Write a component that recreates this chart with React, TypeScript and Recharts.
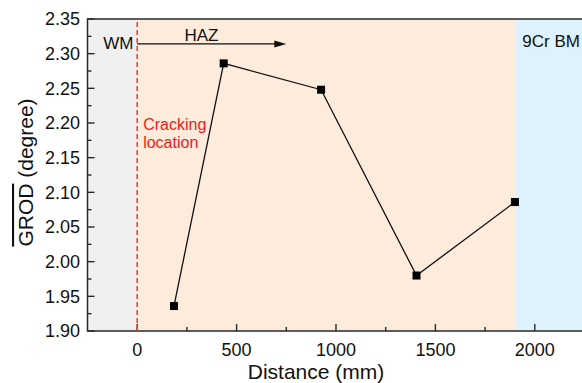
import React from 'react';
import {
  ComposedChart,
  Line,
  XAxis,
  YAxis,
  ReferenceArea,
  ReferenceLine,
  ReferenceDot,
} from 'recharts';

// measured GROD values along the weld
const distance = [185, 435, 925, 1405, 1900];
const grod = [1.936, 2.286, 2.248, 1.98, 2.086];

const xDomain = [-250, 2250];
const yDomain = [1.9, 2.35];
const xTicks = [0, 250, 500, 750, 1000, 1250, 1500, 1750, 2000];
const yTicks = [
  1.9, 1.925, 1.95, 1.975, 2.0, 2.025, 2.05, 2.075, 2.1, 2.125, 2.15, 2.175,
  2.2, 2.225, 2.25, 2.275, 2.3, 2.325, 2.35,
];

// zone boundaries: WM | HAZ | 9Cr BM
const zoneEdges = [-250, 0, 1900, 2250];
const zoneColors = ['#f0f0f0', '#fdebdc', '#def2fd'];

const cracking = 0;
const hazArrow = { from: 0, to: 750, y: 2.314 };

const notes = [
  { text: 'WM', x: -95, y: 2.307, anchor: 'middle', color: '#111' },
  { text: 'HAZ', x: 323, y: 2.318, anchor: 'middle', color: '#111' },
  { text: '9Cr BM', x: 1937, y: 2.31, anchor: 'start', color: '#111' },
  { text: 'Cracking', x: 30, y: 2.19, anchor: 'start', color: '#ee1c1c' },
  { text: 'location', x: 30, y: 2.164, anchor: 'start', color: '#ee1c1c' },
];

const data = distance.map((d, i) => ({ x: d, y: grod[i] }));

const FONT = "Arial, 'Liberation Sans', sans-serif";
const AXIS = '#2a2a2a';

const isMajorX = (v: number) => v % 500 === 0;
const isMajorY = (v: number) => Math.abs(v * 20 - Math.round(v * 20)) < 1e-6;

const XTick = (p: any) => {
  const { x, y, payload } = p;
  const v = payload.value;
  if (!isMajorX(v)) return <g />;
  return (
    <text x={x} y={y} dy="0.71em" textAnchor="middle" fontSize={18} fontFamily={FONT} fill="#111">
      {v}
    </text>
  );
};

const YTick = (p: any) => {
  const { x, y, payload } = p;
  const v = payload.value;
  if (!isMajorY(v)) return <g />;
  return (
    <text x={x} y={y} dy="0.355em" textAnchor="end" fontSize={18} fontFamily={FONT} fill="#111">
      {v.toFixed(2)}
    </text>
  );
};

// inward tick marks, drawn on top of the coloured zones
const XTickMark = (p: any) => {
  const bottom = Math.max(p.y1, p.y2);
  const len = isMajorX(p.value) ? 7 : 4;
  return <line x1={p.x1} x2={p.x1} y1={bottom} y2={bottom - len} stroke={AXIS} strokeWidth={1.4} />;
};
const YTickMark = (p: any) => {
  const left = Math.min(p.x1, p.x2);
  const len = isMajorY(p.value) ? 7 : 4;
  return <line x1={left} x2={left + len} y1={p.y1} y2={p.y1} stroke={AXIS} strokeWidth={1.4} />;
};

const Square = (p: any) => (
  <rect key={`pt-${p.index}`} x={p.cx - 4} y={p.cy - 4} width={8} height={8} fill="#000" />
);

const Arrow = (p: any) => {
  const { x1, y1, x2, y2 } = p;
  return (
    <g>
      <line x1={x1} y1={y1} x2={x2 - 10} y2={y2} stroke="#111" strokeWidth={1.3} />
      <polygon points={`${x2},${y2} ${x2 - 12},${y2 - 3.5} ${x2 - 12},${y2 + 3.5}`} fill="#111" />
    </g>
  );
};

const noteLabel = (n: any) => (props: any) => {
  const vb = props.viewBox || {};
  return (
    <text x={vb.x} y={vb.y} textAnchor={n.anchor} fontSize={n.color === '#111' ? 17 : 16} fontFamily={FONT} fill={n.color}>
      {n.text}
    </text>
  );
};

const XLabel = (props: any) => {
  const vb = props.viewBox;
  return (
    <text x={vb.x + 228.5} y={vb.y + 48} textAnchor="middle" fontSize={21} fontFamily={FONT} fill="#111">
      Distance (mm)
    </text>
  );
};

const YLabel = (props: any) => {
  const vb = props.viewBox;
  const cy = vb.y + vb.height / 2 - 2.5;
  return (
    <text
      transform={`translate(33, ${cy}) rotate(-90)`}
      textAnchor="middle"
      fontSize={21}
      fontFamily={FONT}
      fill="#111"
    >
      <tspan style={{ textDecoration: 'overline' }}>GROD</tspan> (degree)
    </text>
  );
};

export default function App() {
  return (
    <div style={{ position: 'absolute', left: 0, top: 0, width: 582, height: 383, overflow: 'hidden', background: '#fff' }}>
      <ComposedChart width={600} height={383} data={data} margin={{ top: 19, right: 15.5, bottom: 0, left: 0 }}>
        {zoneColors.map((c, i) => (
          <ReferenceArea
            key={`zone-${i}`}
            x1={zoneEdges[i]}
            x2={zoneEdges[i + 1]}
            y1={yDomain[0]}
            y2={yDomain[1]}
            fill={c}
            fillOpacity={1}
            stroke="none"
          />
        ))}
        <XAxis
          type="number"
          dataKey="x"
          domain={xDomain}
          ticks={xTicks}
          allowDataOverflow
          height={52}
          tickSize={0}
          tickMargin={12}
          tickLine={false}
          axisLine={false}
          tick={XTick}
          interval={0}
          label={XLabel}
        />
        <YAxis
          type="number"
          dataKey="y"
          domain={yDomain}
          ticks={yTicks}
          allowDataOverflow
          width={87.5}
          tickSize={0}
          tickMargin={7.5}
          tickLine={false}
          axisLine={false}
          tick={YTick}
          interval={0}
          label={YLabel}
        />
        {xTicks.map((v) => (
          <ReferenceLine key={`xt-${v}`} x={v} shape={(p: any) => <XTickMark {...p} value={v} />} />
        ))}
        {yTicks.map((v) => (
          <ReferenceLine key={`yt-${v}`} y={v} shape={(p: any) => <YTickMark {...p} value={v} />} />
        ))}
        <ReferenceArea
          x1={xDomain[0]}
          x2={xDomain[1]}
          y1={yDomain[0]}
          y2={yDomain[1]}
          fill="none"
          stroke={AXIS}
          strokeWidth={1.5}
        />
        <ReferenceLine x={cracking} stroke="#e8403a" strokeWidth={1.5} strokeDasharray="5 3" />
        <ReferenceLine
          segment={[
            { x: hazArrow.from, y: hazArrow.y },
            { x: hazArrow.to, y: hazArrow.y },
          ]}
          shape={Arrow}
        />
        {notes.map((n, i) => (
          <ReferenceDot key={`note-${i}`} x={n.x} y={n.y} r={0} fill="none" stroke="none" label={noteLabel(n)} />
        ))}
        <Line
          type="linear"
          dataKey="y"
          stroke="#111"
          strokeWidth={1.3}
          dot={Square}
          activeDot={false}
          isAnimationActive={false}
        />
      </ComposedChart>
    </div>
  );
}
